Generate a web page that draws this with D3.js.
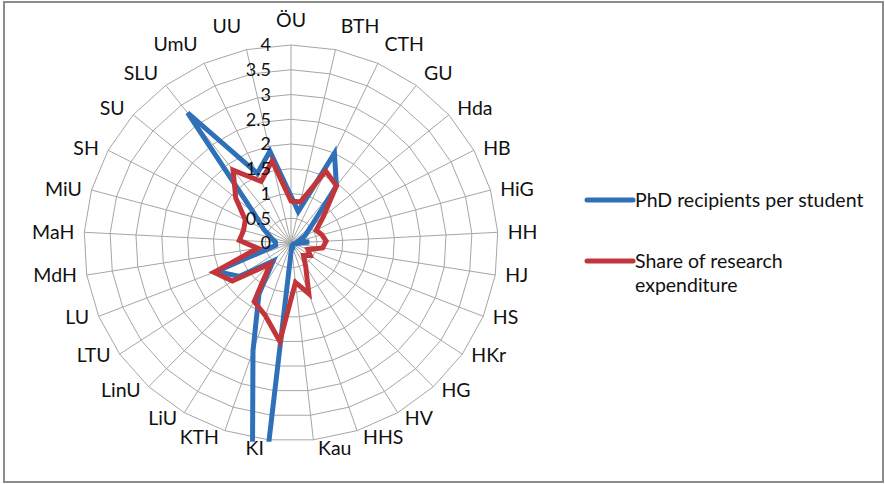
<!DOCTYPE html>
<html>
<head>
<meta charset="utf-8">
<script src="https://cdn.jsdelivr.net/npm/d3@7"></script>
<style>
  html, body { margin: 0; padding: 0; background: #fff; }
  svg { display: block; font-family: Lato, 'Open Sans', sans-serif; }
</style>
</head>
<body>
<div id="chart"></div>
<script>
// Radar chart: PhD recipients per student vs share of research expenditure

const categories = ['ÖU', 'BTH', 'CTH', 'GU', 'Hda', 'HB', 'HiG', 'HH', 'HJ', 'HS', 'HKr', 'HG', 'HV', 'HHS',
  'Kau', 'KI', 'KTH', 'LiU', 'LinU', 'LTU', 'LU', 'MdH', 'MaH', 'MiU', 'SH', 'SU', 'SLU', 'UmU', 'UU'];

const phdPerStudent = [0.95, 0.65, 2.0, 1.45, 0.5, 0.3, 0.15, 0.35, 0.1, 0.05, 0.05, 0.05, 0.05, 0.1,
  0.1, 7.0, 2.3, 1.2, 0.5, 1.2, 1.55, 0.3, 0.3, 0.4, 0.6, 0.95, 3.3, 1.55, 1.9];

const researchShare = [0.85, 0.85, 1.6, 1.45, 0.82, 0.55, 0.62, 0.68, 0.62, 0.35, 0.45, 0.35, 0.55, 1.08,
  0.8, 2.0, 1.55, 1.38, 0.58, 1.37, 1.6, 0.65, 1.0, 0.95, 1.0, 1.4, 1.85, 1.37, 1.7];

const seriesNames = ['PhD recipients per student', 'Share of research expenditure'];
const seriesColors = ['#2f70b8', '#c2363b'];
const tickValues = [0, 0.5, 1, 1.5, 2, 2.5, 3, 3.5, 4];

const W = 885, H = 484;
const CX = 291, CY = 243;
const RX = 207, RY = 198;
const FONT = 19.5;

const svg = d3.select('#chart').append('svg')
  .attr('width', W)
  .attr('height', H);

// outer frame
svg.append('rect')
  .attr('x', 4).attr('y', 2)
  .attr('width', 879).attr('height', 480)
  .attr('fill', '#fff')
  .attr('stroke', '#8c8c8c')
  .attr('stroke-width', 2);

const rx = d3.scaleLinear().domain([0, 4]).range([0, RX]);
const ry = d3.scaleLinear().domain([0, 4]).range([0, RY]);
const angle = d3.scaleLinear().domain([0, categories.length]).range([0, 2 * Math.PI]);

const px = (i, v) => CX + rx(v) * Math.sin(angle(i));
const py = (i, v) => CY - ry(v) * Math.cos(angle(i));

const g = svg.append('g');

// polygon gridlines
const ringLine = d3.line().curve(d3.curveLinearClosed);
g.selectAll('path.ring')
  .data(tickValues.filter(t => t > 0))
  .join('path')
  .attr('class', 'ring')
  .attr('d', t => ringLine(categories.map((c, i) => [px(i, t), py(i, t)])))
  .attr('fill', 'none')
  .attr('stroke', '#a6a6a6')
  .attr('stroke-width', 1);

// spokes
g.selectAll('line.spoke')
  .data(categories)
  .join('line')
  .attr('class', 'spoke')
  .attr('x1', CX).attr('y1', CY)
  .attr('x2', (c, i) => px(i, 4))
  .attr('y2', (c, i) => py(i, 4))
  .attr('stroke', '#a6a6a6')
  .attr('stroke-width', 1);

// clip to plot area
svg.append('clipPath').attr('id', 'plotClip')
  .append('rect')
  .attr('x', CX - RX - 6).attr('y', CY - RY - 6)
  .attr('width', 2 * RX + 12)
  .attr('height', RY + 6 + d3.max(categories, (c, i) => py(i, 4)) - CY + 2);

const series = [phdPerStudent, researchShare];
const lineGen = d3.line().curve(d3.curveLinearClosed);
g.append('g').attr('clip-path', 'url(#plotClip)')
  .selectAll('path.series')
  .data(series)
  .join('path')
  .attr('class', 'series')
  .attr('d', vals => lineGen(vals.map((v, i) => [px(i, v), py(i, v)])))
  .attr('fill', 'none')
  .attr('stroke', (d, k) => seriesColors[k])
  .attr('stroke-width', 5)
  .attr('stroke-linejoin', 'miter')
  .attr('stroke-miterlimit', 4);

// value axis labels (along ÖU spoke)
g.selectAll('text.tick')
  .data(tickValues)
  .join('text')
  .attr('class', 'tick')
  .attr('x', CX - 20)
  .attr('y', t => CY - ry(t))
  .attr('dy', '0.35em')
  .attr('text-anchor', 'end')
  .attr('font-size', 18)
  .attr('fill', '#111')
  .text(t => t);

// category labels
g.selectAll('text.cat')
  .data(categories)
  .join('text')
  .attr('class', 'cat')
  .each(function (c, i) {
    const a = angle(i);
    const s = Math.sin(a), co = Math.cos(a);
    let x = px(i, 4), y = py(i, 4);
    let anchor = 'middle';
    if (s > 0.05) { anchor = 'start'; x += 4 + 6 * s; }
    else if (s < -0.05) { anchor = 'end'; x -= 4 + 6 * Math.abs(s); }
    if (co > 0) y -= 25 * co * co * co;
    else y += 8 * Math.abs(co * co * co);
    d3.select(this)
      .attr('x', x).attr('y', y)
      .attr('dy', '0.35em')
      .attr('text-anchor', anchor);
  })
  .attr('font-size', FONT)
  .attr('fill', '#111')
  .text(c => c);

// legend
const legend = svg.append('g').attr('transform', 'translate(587,200)');
const legendRows = [
  { lines: ['PhD recipients per student'], y: 0 },
  { lines: ['Share of research', 'expenditure'], y: 61 }
];
legendRows.forEach((row, k) => {
  const lg = legend.append('g').attr('transform', `translate(0,${row.y})`);
  lg.append('line')
    .attr('x1', 0).attr('x2', 46)
    .attr('y1', 0).attr('y2', 0)
    .attr('stroke', seriesColors[k])
    .attr('stroke-width', 5)
    .attr('stroke-linecap', 'round');
  row.lines.forEach((t, j) => {
    lg.append('text')
      .attr('x', 48)
      .attr('y', j * 24)
      .attr('dy', '0.35em')
      .attr('font-size', FONT)
      .attr('fill', '#111')
      .text(t);
  });
});
</script>
</body>
</html>
